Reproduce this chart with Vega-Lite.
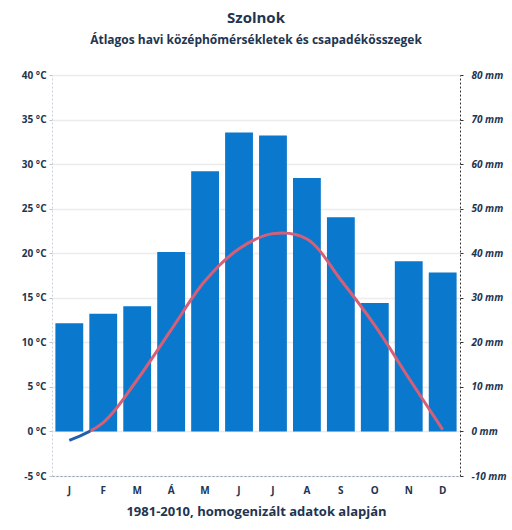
{
  "$schema": "https://vega.github.io/schema/vega-lite/v6.json",
  "width": 408,
  "height": 401,
  "autosize": {"type": "none"},
  "padding": {"left": 52, "top": 75, "right": 52, "bottom": 54},
  "background": "white",
  "title": {
    "text": "Szolnok",
    "subtitle": "Átlagos havi középhőmérsékletek és csapadékösszegek",
    "anchor": "middle",
    "font": "Open Sans",
    "fontSize": 15,
    "fontWeight": "bold",
    "color": "#22344f",
    "subtitleFont": "Open Sans",
    "subtitleFontSize": 12,
    "subtitleFontWeight": "bold",
    "subtitleColor": "#22344f",
    "subtitlePadding": 9,
    "offset": 24
  },
  "data": {
    "values": [
      {"m": 1, "ho": "J", "csapadek": 24.3, "homerseklet": -1.0},
      {"m": 2, "ho": "F", "csapadek": 26.4, "homerseklet": 1.0},
      {"m": 3, "ho": "M", "csapadek": 28.1, "homerseklet": 5.8},
      {"m": 4, "ho": "Á", "csapadek": 40.3, "homerseklet": 11.4},
      {"m": 5, "ho": "M", "csapadek": 58.4, "homerseklet": 16.9},
      {"m": 6, "ho": "J", "csapadek": 67.1, "homerseklet": 20.5},
      {"m": 7, "ho": "J", "csapadek": 66.4, "homerseklet": 22.2},
      {"m": 8, "ho": "A", "csapadek": 56.9, "homerseklet": 21.6},
      {"m": 9, "ho": "S", "csapadek": 48.1, "homerseklet": 17.0},
      {"m": 10, "ho": "O", "csapadek": 28.8, "homerseklet": 11.9},
      {"m": 11, "ho": "N", "csapadek": 38.2, "homerseklet": 6.0},
      {"m": 12, "ho": "D", "csapadek": 35.7, "homerseklet": 0.2}
    ]
  },
  "encoding": {
    "x": {
      "field": "m",
      "type": "ordinal",
      "scale": {"paddingInner": 0.18, "paddingOuter": 0.1},
      "axis": {
        "title": "1981-2010, homogenizált adatok alapján",
        "titleFont": "Open Sans",
        "titleFontSize": 13,
        "titleFontWeight": "bold",
        "titleColor": "#22344f",
        "titlePadding": 10,
        "labelExpr": "['J','F','M','Á','M','J','J','A','S','O','N','D'][datum.value-1]",
        "labelAngle": 0,
        "labelFont": "Open Sans",
        "labelFontSize": 10,
        "labelFontWeight": "bold",
        "labelColor": "#22344f",
        "labelPadding": 9,
        "ticks": false,
        "domainColor": "#8aa0b8",
        "domainDash": [2, 2],
        "grid": false
      }
    }
  },
  "layer": [
    {
      "mark": {"type": "bar", "color": "#0a78cc"},
      "encoding": {
        "y": {
          "field": "csapadek",
          "type": "quantitative",
          "scale": {"domain": [-10, 80], "nice": false, "zero": false},
          "axis": {
            "orient": "right",
            "title": null,
            "values": [-10, 0, 10, 20, 30, 40, 50, 60, 70, 80],
            "labelExpr": "datum.value + ' mm'",
            "labelFont": "Open Sans",
            "labelFontSize": 10,
            "labelFontWeight": "bold",
            "labelFontStyle": "italic",
            "labelColor": "#22344f",
            "labelPadding": 8,
            "tickSize": 3,
            "tickColor": "#333333",
            "domainColor": "#333333",
            "domainDash": [2, 2],
            "grid": false
          }
        },
        "y2": {"datum": 0}
      }
    },
    {
      "mark": {
        "type": "line",
        "strokeWidth": 3,
        "interpolate": "catmull-rom",
        "color": {
          "gradient": "linear",
          "x1": 0, "y1": 0, "x2": 1, "y2": 0,
          "stops": [
            {"offset": 0, "color": "#1f5fae"},
            {"offset": 0.055, "color": "#1f5fae"},
            {"offset": 0.058, "color": "#d65f78"},
            {"offset": 1, "color": "#d65f78"}
          ]
        }
      },
      "encoding": {
        "y": {
          "field": "homerseklet",
          "type": "quantitative",
          "scale": {"domain": [-5, 40], "nice": false, "zero": false},
          "axis": {
            "orient": "left",
            "title": null,
            "values": [-5, 0, 5, 10, 15, 20, 25, 30, 35, 40],
            "labelExpr": "datum.value + ' °C'",
            "labelFont": "Open Sans",
            "labelFontSize": 10,
            "labelFontWeight": "bold",
            "labelColor": "#22344f",
            "labelPadding": 3,
            "tickSize": 3,
            "tickColor": "#b8c4d0",
            "domainColor": "#c8d2dc",
            "domainDash": [2, 2],
            "grid": true,
            "gridColor": "#ececec",
            "gridWidth": 1.5
          }
        }
      }
    }
  ],
  "resolve": {"scale": {"y": "independent"}},
  "config": {"view": {"stroke": null}}
}
